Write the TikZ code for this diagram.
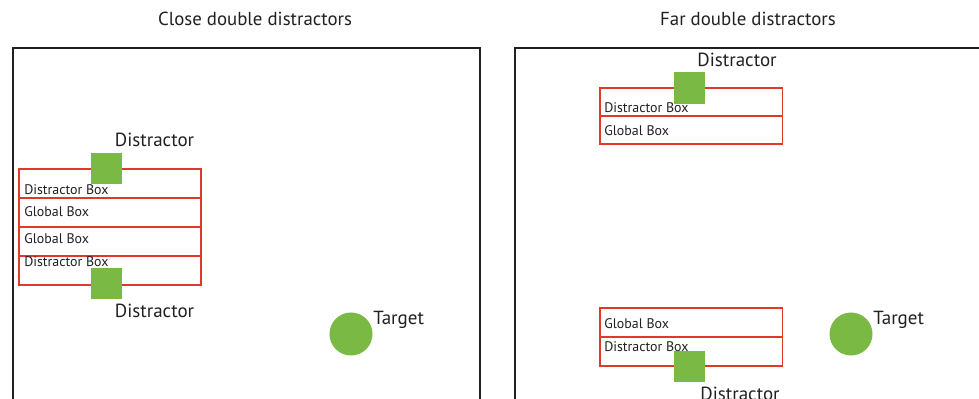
\documentclass[tikz,border=0pt]{standalone}
\usepackage{fontspec}
\setmainfont{PT Sans}
\definecolor{dgreen}{HTML}{7AB943}
\definecolor{boxred}{HTML}{E0392B}
\definecolor{ink}{HTML}{231F20}
\tikzset{
  frame/.style={draw=ink, line width=0.75pt},
  regbox/.style={draw=boxred, line width=0.75pt, minimum width=4.55cm, minimum height=0.725cm, inner sep=0pt},
  distsq/.style={fill=dgreen, minimum size=0.775cm, inner sep=0pt},
  targetdot/.style={circle, fill=dgreen, minimum size=1.075cm, inner sep=0pt},
  biglbl/.style={font=\fontsize{13.5}{15}\selectfont, text=ink, anchor=base, inner sep=0pt},
  titlelbl/.style={font=\fontsize{13.4}{15}\selectfont, text=ink, anchor=base, inner sep=0pt},
  boxlbl/.style={font=\fontsize{9.9}{11}\selectfont, text=ink, anchor=base west, inner sep=0pt}
}
\begin{document}
\begin{tikzpicture}[x=0.025cm, y=-0.025cm]
    \useasboundingbox (0,0) rectangle (979,399);
    \clip (0,0) rectangle (979,399);
    % titles
    \node[titlelbl] (closetitle) at (255,26) {Close double distractors};
    \node[titlelbl] (fartitle) at (748,26) {Far double distractors};
    % frames
    \draw[frame] (13,420) -- (13,48) -- (480,48) -- (480,420);
    \draw[frame] (515,420) -- (515,48) -- (1000,48);
    % close: boxes
    \node[regbox] (cdbox1) at (110,183.5) {};
    \node[regbox] (cgbox1) at (110,212.5) {};
    \node[regbox] (cgbox2) at (110,241.5) {};
    \node[regbox] (cdbox2) at (110,270.5) {};
    \node[boxlbl] (cdlbl1) at (24,195) {Distractor Box};
    \node[boxlbl] (cglbl1) at (24,217) {Global Box};
    \node[boxlbl] (cglbl2) at (24,244) {Global Box};
    \node[boxlbl] (cdlbl2) at (24,267) {Distractor Box};
    % close: distractors and target
    \node[distsq] (cdist1) at (106.5,168.5) {};
    \node[distsq] (cdist2) at (106.5,283.5) {};
    \node[biglbl] (cdistlbl1) at (154.5,147) {Distractor};
    \node[biglbl] (cdistlbl2) at (154.5,318) {Distractor};
    \node[targetdot] (ctarget) at (351,334) {};
    \node[biglbl, anchor=base west] (ctargetlbl) at (373,324) {Target};
    % far: boxes
    \node[regbox, minimum height=0.7cm] (fdbox1) at (691,102) {};
    \node[regbox, minimum height=0.7cm] (fgbox1) at (691,130) {};
    \node[regbox] (fgbox2) at (691,322.5) {};
    \node[regbox] (fdbox2) at (691,351.5) {};
    \node[boxlbl] (fdlbl1) at (604,113) {Distractor Box};
    \node[boxlbl] (fglbl1) at (604,136) {Global Box};
    \node[boxlbl] (fglbl2) at (604,328) {Global Box};
    \node[boxlbl] (fdlbl2) at (604,351) {Distractor Box};
    % far: distractors and target
    \node[distsq] (fdist1) at (689.5,88) {};
    \node[distsq] (fdist2) at (689.5,366.5) {};
    \node[biglbl] (fdistlbl1) at (737,67) {Distractor};
    \node[biglbl] (fdistlbl2) at (740,400) {Distractor};
    \node[targetdot] (ftarget) at (851,334) {};
    \node[biglbl, anchor=base west] (ftargetlbl) at (873,324) {Target};
\end{tikzpicture}
\end{document}
